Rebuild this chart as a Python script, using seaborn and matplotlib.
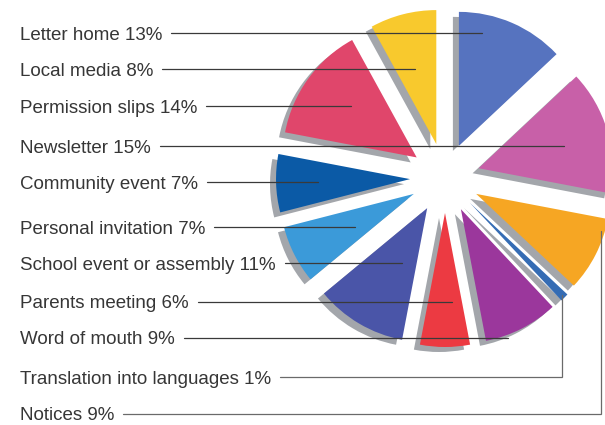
import matplotlib
matplotlib.use("Agg")
import matplotlib.pyplot as plt
import seaborn as sns

# Communication channels and their share of responses (%)
categories = [
    "Letter home", "Newsletter", "Notices", "Translation into languages",
    "Word of mouth", "Parents meeting", "School event or assembly",
    "Personal invitation", "Community event", "Permission slips", "Local media",
]
shares = [13, 15, 9, 1, 9, 6, 11, 7, 7, 14, 8]
slice_colors = [
    "#5673bf", "#c860a8", "#f6a623", "#356cb4",
    "#9b379c", "#ec3a42", "#4a55a8",
    "#3b9ad9", "#0b5aa6", "#e0466b", "#f8c92d",
]

# Order of the labels down the left-hand side
label_order = [
    "Letter home", "Local media", "Permission slips", "Newsletter",
    "Community event", "Personal invitation", "School event or assembly",
    "Parents meeting", "Word of mouth", "Translation into languages", "Notices",
]

W, H = 605, 425
sns.set_theme(style="white")
plt.rcParams["font.family"] = ["Liberation Sans", "DejaVu Sans"]
palette = sns.color_palette(slice_colors)

fig = plt.figure(figsize=(W / 100, H / 100), dpi=100)
ax = fig.add_axes([0, 0, 1, 1])


def iy(y):
    """Convert a top-down pixel row into the axes' bottom-up coordinate."""
    return H - y


cx, cy, R = 445, iy(178), 134
# pie() offsets exploded wedges in data units, so this is a pixel distance
explode = [35] * len(shares)

# Drop shadow under every slice, shifted left and down
ax.pie(shares, colors=["#a3a6ab"] * len(shares), startangle=90,
       counterclock=False, explode=explode, center=(cx - 6, cy - 5),
       radius=R, wedgeprops=dict(linewidth=0), frame=True)
# The coloured slices
ax.pie(shares, colors=palette, startangle=90, counterclock=False,
       explode=explode, center=(cx, cy), radius=R,
       wedgeprops=dict(linewidth=0), frame=True)

ax.set_xlim(0, W)
ax.set_ylim(0, H)
ax.set_aspect("equal")
ax.axis("off")

# Label rows and where each leader line stops inside its slice
row_y = [33, 69, 106, 146, 182, 227, 263, 302, 338, 377, 414]
line_end_x = [482, 415, 351, 564, 318, 355, 402, 452, 508, 562, 601]
bend_to_y = {"Translation into languages": 295, "Notices": 231}

fig.canvas.draw()
renderer = fig.canvas.get_renderer()
share_of = dict(zip(categories, shares))
for name, y, xe in zip(label_order, row_y, line_end_x):
    t = ax.text(20, iy(y) - 6.5, f"{name} {share_of[name]}%", fontsize=13.5,
                color="#363636", ha="left", va="baseline")
    bb = t.get_window_extent(renderer=renderer)
    x0 = ax.transData.inverted().transform((bb.x1, 0))[0] + 9
    if name in bend_to_y:
        ax.plot([x0, xe, xe], [iy(y), iy(y), iy(bend_to_y[name])],
                color="#6a6a6a", lw=0.9, solid_joinstyle="miter")
    else:
        ax.plot([x0, xe], [iy(y), iy(y)], color="#3a3a3a", lw=0.9)

fig.savefig("out.png", dpi=100, facecolor="white")
